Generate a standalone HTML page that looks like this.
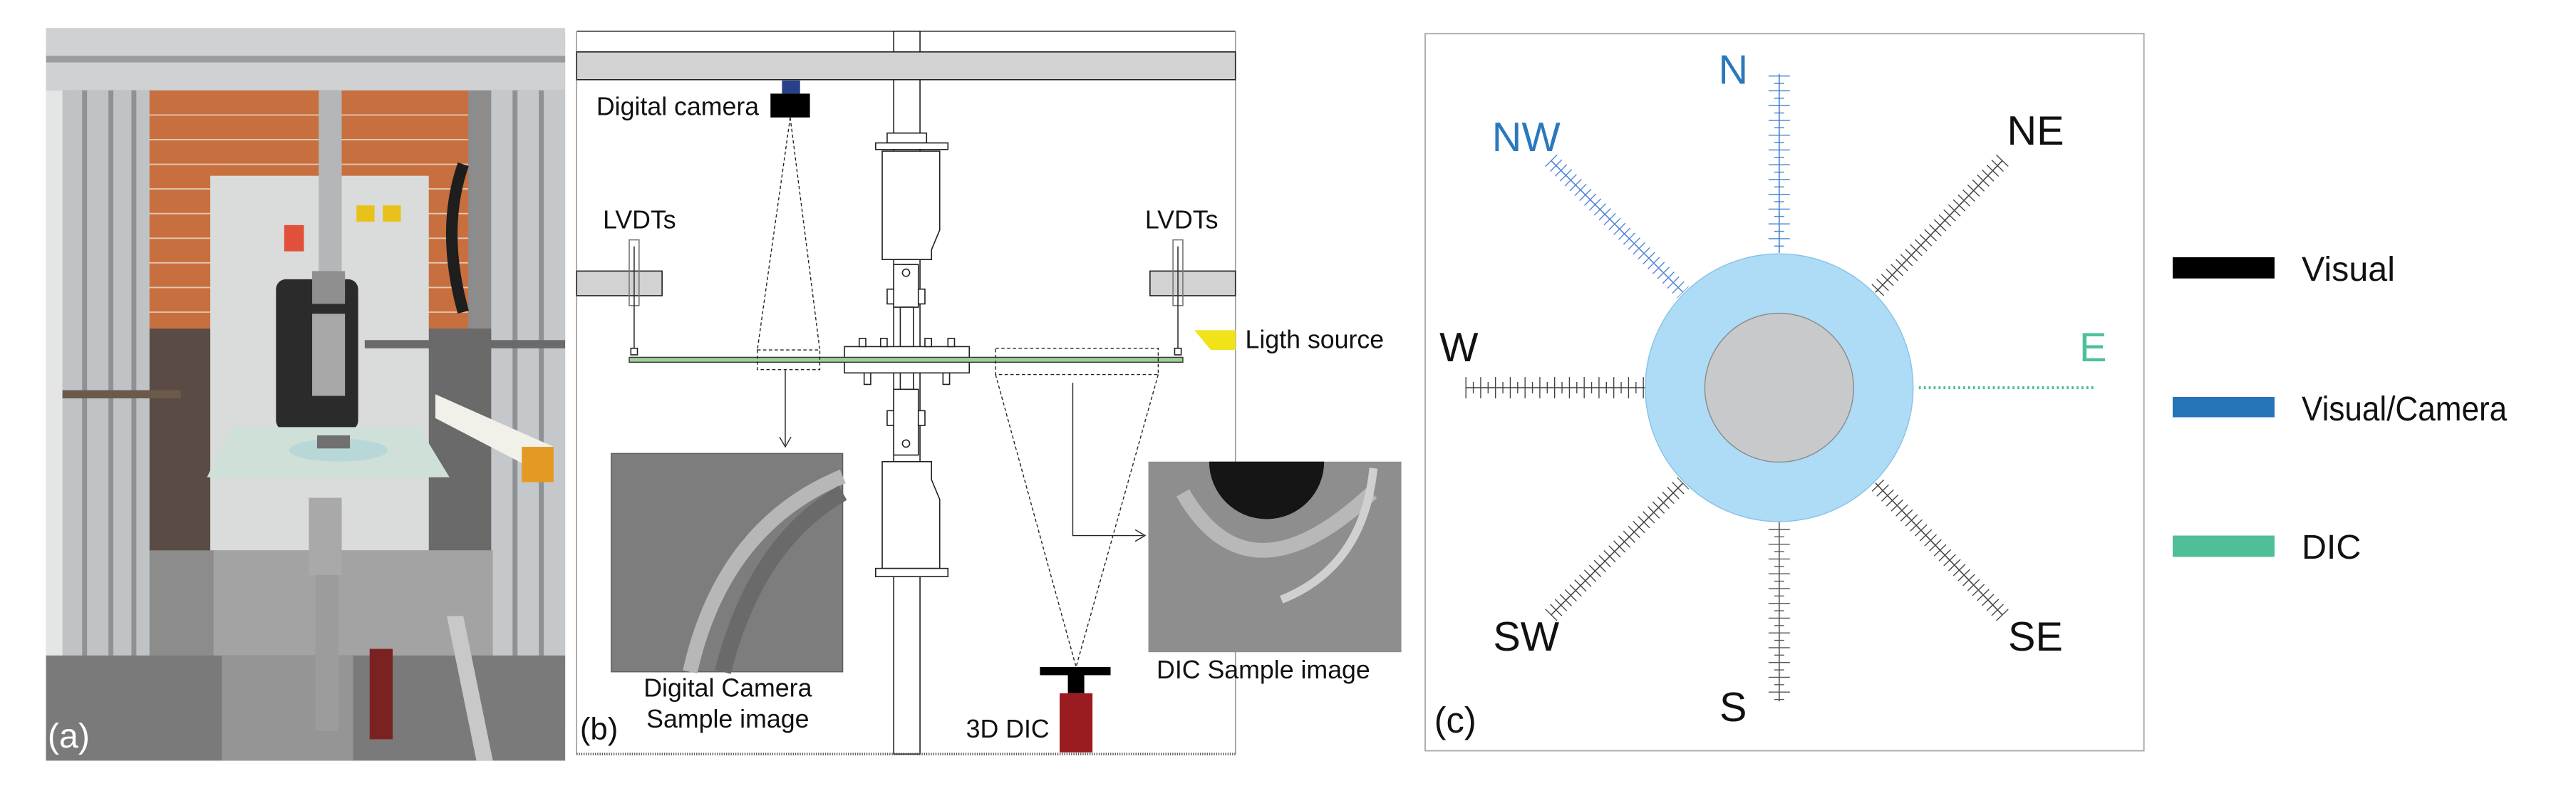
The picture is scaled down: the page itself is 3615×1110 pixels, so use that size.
<!DOCTYPE html>
<html><head><meta charset="utf-8"><style>
html,body{margin:0;padding:0;background:#fff}
svg{display:block}
text{font-family:"Liberation Sans",sans-serif}
</style></head><body>
<svg width="3615" height="1110" viewBox="0 0 1568 481.5" preserveAspectRatio="none" xmlns="http://www.w3.org/2000/svg">
<rect width="1568" height="481.5" fill="#fff"/>
<!-- Panel (a) photo approximation -->
<g>
<rect x="28" y="20" width="316" height="443" fill="#8c8c8c"/>
<rect x="28" y="55" width="14" height="390" fill="#e4e6e6"/>
<rect x="85" y="55" width="200" height="145" fill="#c76f3e"/>
<g stroke="#e3c8b5" stroke-width="0.8">
<line x1="85" y1="70" x2="285" y2="70"/><line x1="85" y1="85" x2="285" y2="85"/><line x1="85" y1="100" x2="285" y2="100"/><line x1="85" y1="115" x2="285" y2="115"/><line x1="85" y1="130" x2="285" y2="130"/><line x1="85" y1="145" x2="285" y2="145"/><line x1="85" y1="160" x2="285" y2="160"/><line x1="85" y1="175" x2="285" y2="175"/><line x1="85" y1="190" x2="285" y2="190"/>
</g>
<rect x="85" y="200" width="45" height="135" fill="#5a4c44"/>
<rect x="261" y="200" width="45" height="135" fill="#6a6a6a"/>
<rect x="128" y="107" width="133" height="228" fill="#dadcdc"/>
<rect x="168" y="170" width="50" height="92" fill="#2b2b2b" rx="6"/>
<rect x="173" y="137" width="12" height="16" fill="#e0503a"/>
<rect x="217" y="125" width="11" height="10" fill="#e8c21a"/>
<rect x="233" y="125" width="11" height="10" fill="#e8c21a"/>
<rect x="28" y="17" width="316" height="38" fill="#cfd1d2"/>
<rect x="28" y="34" width="316" height="4" fill="#9a9d9f"/>
<rect x="38" y="55" width="53" height="390" fill="#bfc3c5"/>
<rect x="50" y="55" width="3" height="390" fill="#8e9294"/>
<rect x="66" y="55" width="3" height="390" fill="#8e9294"/>
<rect x="80" y="55" width="3" height="390" fill="#8e9294"/>
<rect x="299" y="55" width="45" height="390" fill="#c4c8ca"/>
<rect x="312" y="55" width="3" height="390" fill="#8e9294"/>
<rect x="328" y="55" width="3" height="390" fill="#8e9294"/>
<path d="M282 100 Q268 140 282 190" stroke="#1e1e1e" stroke-width="7" fill="none"/>
<rect x="130" y="335" width="170" height="65" fill="#a3a3a3"/>
<rect x="28" y="399" width="316" height="64" fill="#7a7a7a"/>
<rect x="135" y="399" width="80" height="64" fill="#959595"/>
<rect x="194" y="55" width="14" height="110" fill="#b4b6b7"/>
<rect x="190" y="165" width="20" height="20" fill="#8f8f8f"/>
<rect x="190" y="191" width="20" height="50" fill="#a8a8a8"/>
<line x1="38" y1="240" x2="110" y2="240" stroke="#6b5a4a" stroke-width="5"/>
<line x1="222" y1="209.5" x2="344" y2="209.5" stroke="#6a6a6a" stroke-width="5"/>
<polygon points="140.6,260 255,260 273.6,290.5 126,290.5" fill="#cfe0d8"/>
<ellipse cx="206" cy="274" rx="30" ry="7" fill="#b8d8d8"/>
<rect x="193" y="265" width="20" height="8" fill="#707070"/>
<rect x="188" y="303" width="20" height="47" fill="#a9a9a9"/>
<rect x="192" y="350" width="14" height="95" fill="#9c9c9c"/>
<polygon points="265,240 337,272 337,292 265,254.5" fill="#f1f1ea"/>
<rect x="317.6" y="272" width="19.4" height="21.5" fill="#e49a22"/>
<rect x="225" y="395" width="14" height="55" fill="#7a2222"/>
<polygon points="272,375 282,375 300,463 290,463" fill="#c8c8c8"/>
<text x="29" y="455" font-size="21" fill="#fff">(a)</text>
</g>

<!-- Panel (b) -->
<g stroke="#222" stroke-width="0.7">
<line x1="351" y1="19" x2="752" y2="19" stroke="#333"/>
<line x1="351" y1="19" x2="351" y2="459" stroke="#999"/>
<line x1="752" y1="19" x2="752" y2="459" stroke="#999"/>
<rect x="544" y="19" width="16" height="440" fill="#fff"/>
<rect x="351" y="31.6" width="401" height="16.9" fill="#d2d2d2"/>
<rect x="540" y="81" width="24" height="6" fill="#fff"/>
<rect x="533" y="87" width="44" height="4" fill="#fff"/>
<path d="M537 92 H572 V140 L567 152 V158 H537 Z" fill="#fff"/>
<rect x="544" y="161" width="15" height="26" fill="#fff"/>
<circle cx="551.5" cy="166" r="2.2" fill="#fff"/>
<rect x="540" y="176" width="4" height="9" fill="#fff"/><rect x="559" y="176" width="4" height="9" fill="#fff"/>
<rect x="548" y="187" width="8" height="24" fill="#fff"/>
<rect x="514" y="211" width="76" height="16" fill="#fff"/>
<rect x="523" y="206" width="4" height="5" fill="#fff"/><rect x="536" y="206" width="4" height="5" fill="#fff"/><rect x="563" y="206" width="4" height="5" fill="#fff"/><rect x="577" y="206" width="4" height="5" fill="#fff"/>
<rect x="526" y="227" width="4" height="7" fill="#fff"/><rect x="550" y="227" width="4" height="7" fill="#fff"/><rect x="574" y="227" width="4" height="7" fill="#fff"/>
<rect x="548" y="227" width="8" height="10" fill="#fff"/>
<rect x="544" y="237" width="15" height="40" fill="#fff"/>
<circle cx="551.5" cy="270" r="2.2" fill="#fff"/>
<rect x="540" y="250" width="4" height="9" fill="#fff"/><rect x="559" y="250" width="4" height="9" fill="#fff"/>
<path d="M537 281 H567 V292 L572 304 V346 H537 Z" fill="#fff"/>
<rect x="533" y="346" width="44" height="5" fill="#fff"/>
<!-- LVDTs -->
<rect x="351" y="165" width="52" height="15" fill="#d2d2d2"/>
<rect x="383" y="146" width="6" height="40" fill="none" stroke="#777"/>
<line x1="386" y1="150" x2="386" y2="213" stroke="#333"/>
<rect x="384" y="212" width="4" height="4" fill="#fff"/>
<rect x="700" y="165" width="52" height="15" fill="#d2d2d2"/>
<rect x="714" y="146" width="6" height="40" fill="none" stroke="#777"/>
<line x1="717" y1="150" x2="717" y2="213" stroke="#333"/>
<rect x="715" y="212" width="4" height="4" fill="#fff"/>
<!-- plate -->
<rect x="383" y="217.5" width="337" height="3" fill="#9ccf97" stroke="#333" stroke-width="0.6"/>
<!-- camera -->
<rect x="476" y="49" width="11" height="8" fill="#26418a" stroke="none"/>
<rect x="469" y="57" width="24" height="14.5" fill="#000" stroke="none"/>
<g stroke-dasharray="2,1.5" stroke-width="0.6" fill="none">
<line x1="481" y1="71.5" x2="461" y2="213"/><line x1="481" y1="71.5" x2="499" y2="213"/>
<rect x="461" y="213" width="38" height="12"/>
<rect x="606" y="212" width="99" height="16"/>
<line x1="606" y1="228" x2="655" y2="406"/><line x1="705" y1="228" x2="655" y2="406"/>
</g>
<line x1="478" y1="225" x2="478" y2="271" stroke-width="0.6"/>
<path d="M474.5 266 L478 272 L481.5 266" fill="none" stroke-width="0.6"/>
<path d="M653 233 V326 H696" fill="none" stroke-width="0.6"/>
<path d="M691 322.5 L697 326 L691 329.5" fill="none" stroke-width="0.6"/>
<!-- light -->
<polygon points="727,201 752,201 752,213 737,213" fill="#f2e21a" stroke="none"/>
<!-- 3D DIC -->
<rect x="633" y="406" width="43" height="5" fill="#000" stroke="none"/>
<rect x="650" y="411" width="10" height="11" fill="#000" stroke="none"/>
<rect x="645" y="422" width="20" height="36" fill="#9b1c20" stroke="none"/>
<line x1="351" y1="459" x2="752" y2="459" stroke="#555" stroke-width="1.5" stroke-dasharray="0.6,0.8"/>
</g>
<!-- sample images -->
<rect x="372" y="276" width="141" height="133" fill="#7d7d7d" stroke="#555" stroke-width="0.5"/>
<path d="M513 290 Q440 320 420 409" stroke="#b7b7b7" stroke-width="9" fill="none"/>
<path d="M513 300 Q460 330 440 409" stroke="#6a6a6a" stroke-width="10" fill="none"/>
<rect x="699" y="281" width="154" height="116" fill="#8e8e8e"/>
<path d="M720 300 Q760 370 835 300" stroke="#b8b8b8" stroke-width="9" fill="none"/>
<path d="M836 285 Q830 345 780 365" stroke="#d0d0d0" stroke-width="5" fill="none"/>
<path d="M736 281 A35 35 0 0 0 806 281 Z" fill="#151515"/>
<g font-size="15.5" fill="#111">
<text x="363" y="70">Digital camera</text>
<text x="367" y="139">LVDTs</text>
<text x="697" y="139">LVDTs</text>
<text x="758" y="212">Ligth source</text>
<text x="443" y="424" text-anchor="middle">Digital Camera</text>
<text x="443" y="443" text-anchor="middle">Sample image</text>
<text x="769" y="413" text-anchor="middle">DIC Sample image</text>
<text x="588" y="449">3D DIC</text>
<text x="353" y="450" font-size="19">(b)</text>
</g>

<!-- Panel (c) -->
<rect x="867.5" y="20.5" width="437.5" height="436.5" fill="#fff" stroke="#a8a8a8" stroke-width="0.8"/>
<g fill="none">
<!-- N -->
<g stroke="#3f7fd0">
<line x1="1083" y1="45" x2="1083" y2="154" stroke-width="0.7"/>
<line x1="1083" y1="46" x2="1083" y2="154" stroke-width="13" stroke-dasharray="0.6,8.4"/>
<line x1="1083" y1="50.5" x2="1083" y2="154" stroke-width="6" stroke-dasharray="0.6,8.4"/>
</g>
<!-- S -->
<g stroke="#555">
<line x1="1083" y1="317" x2="1083" y2="427" stroke-width="0.7"/>
<line x1="1083" y1="322" x2="1083" y2="427" stroke-width="13" stroke-dasharray="0.6,8.4"/>
<line x1="1083" y1="326.5" x2="1083" y2="427" stroke-width="6" stroke-dasharray="0.6,8.4"/>
</g>
<!-- W -->
<g stroke="#444">
<line x1="892" y1="236" x2="1001.5" y2="236" stroke-width="0.7"/>
<line x1="892" y1="236" x2="1001.5" y2="236" stroke-width="13" stroke-dasharray="0.6,8.4"/>
<line x1="896.5" y1="236" x2="1001.5" y2="236" stroke-width="7" stroke-dasharray="0.6,8.4"/>
</g>
<line x1="1168" y1="236" x2="1275" y2="236" stroke="#4dbf99" stroke-width="1.8" stroke-dasharray="1.2,1.8"/>
<!-- NW -->
<g stroke="#4f86d6">
<line x1="944" y1="97.6" x2="1024.5" y2="178" stroke-width="0.7"/>
<line x1="944" y1="97.6" x2="1024.5" y2="178" stroke-width="10" stroke-dasharray="0.6,3.6"/>
</g>
<g stroke="#444">
<line x1="1219" y1="97.6" x2="1141.6" y2="178" stroke-width="0.7"/>
<line x1="1219" y1="97.6" x2="1141.6" y2="178" stroke-width="10" stroke-dasharray="0.6,3.6"/>
<line x1="944" y1="374.5" x2="1024.5" y2="294" stroke-width="0.7"/>
<line x1="944" y1="374.5" x2="1024.5" y2="294" stroke-width="10" stroke-dasharray="0.6,3.6"/>
<line x1="1219" y1="374.5" x2="1141.6" y2="294" stroke-width="0.7"/>
<line x1="1219" y1="374.5" x2="1141.6" y2="294" stroke-width="10" stroke-dasharray="0.6,3.6"/>
</g>
</g>
<circle cx="1083" cy="236" r="81.5" fill="#aedbf5" stroke="#86c2e6" stroke-width="0.6"/>
<circle cx="1083" cy="236" r="45.3" fill="#c8c9ca" stroke="#8a8a8a" stroke-width="0.6"/>
<g font-size="25">
<text x="1055" y="51" text-anchor="middle" fill="#2a78bd">N</text>
<text x="929" y="92" text-anchor="middle" fill="#2a78bd">NW</text>
<text x="1239" y="88" text-anchor="middle" fill="#111">NE</text>
<text x="888" y="220" text-anchor="middle" fill="#111">W</text>
<text x="1274" y="220" text-anchor="middle" fill="#4dbf99">E</text>
<text x="929" y="396" text-anchor="middle" fill="#111">SW</text>
<text x="1239" y="396" text-anchor="middle" fill="#111">SE</text>
<text x="1055" y="439" text-anchor="middle" fill="#111">S</text>
<text x="873" y="446" fill="#111" font-size="22">(c)</text>
</g>
<!-- legend -->
<rect x="1322.5" y="156.6" width="62" height="12.9" fill="#000"/>
<rect x="1322.5" y="241.6" width="62" height="12.4" fill="#2574b8"/>
<rect x="1322.5" y="326" width="62" height="13" fill="#4fbf98"/>
<g font-size="21" fill="#111">
<text x="1401" y="171">Visual</text>
<text x="1401" y="256" textLength="125" lengthAdjust="spacingAndGlyphs">Visual/Camera</text>
<text x="1401" y="340">DIC</text>
</g>
</svg>
</body></html>
